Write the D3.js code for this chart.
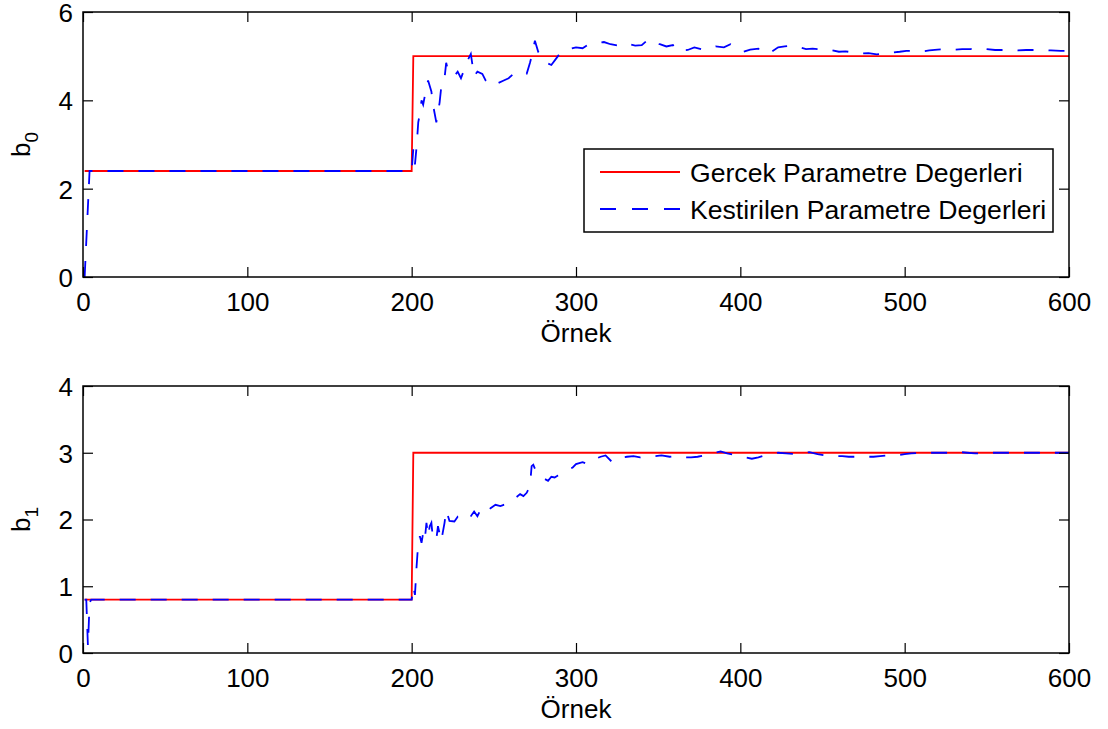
<!DOCTYPE html>
<html>
<head>
<meta charset="utf-8">
<script src="https://cdn.jsdelivr.net/npm/d3@7"></script>
<style>
  body { margin: 0; background: #fff; }
  svg { font-family: "Liberation Sans", Arial, sans-serif; }
</style>
</head>
<body>
<script>
// sample index range
const kDomain = [0, 600];
const xTicks = [0, 100, 200, 300, 400, 500, 600];

// true parameter values (step at k = 200)
const trueK = [1, 200, 201, 600];
const trueB0 = [2.4, 2.4, 5, 5];
const trueB1 = [0.8, 0.8, 3, 3];

// estimated b0
const estB0K = [1, 4, 200, 201, 202, 203, 204, 205, 206, 207, 208, 210, 212, 213, 215, 217, 218, 220, 221, 222, 224, 226, 228, 230, 232, 234, 236, 238, 240, 243, 245, 248, 250, 252, 256, 259, 262, 266, 270, 272, 273, 275, 277, 279, 282, 285, 288, 291, 295, 300, 304, 307, 313, 317, 321, 328, 332, 336, 340, 344, 347, 351, 355, 359, 361, 368, 372, 377, 381, 385, 390, 394, 398, 402, 406, 411, 413, 419, 423, 427, 432, 436, 440, 444, 450, 455, 460, 464, 469, 473, 478, 483, 488, 492, 497, 501, 506, 511, 515, 520, 526, 531, 535, 540, 545, 550, 555, 559, 564, 569, 574, 578, 584, 589, 595, 600];
const estB0 = [0, 2.4, 2.4, 2.9, 2.55, 2.95, 3.5, 3.7, 4.0, 3.9, 4.1, 4.45, 4.2, 3.9, 3.5, 3.95, 4.3, 4.5, 4.85, 4.7, 4.6, 4.55, 4.65, 4.5, 4.7, 4.9, 5.05, 4.55, 4.65, 4.6, 4.45, 4.35, 4.4, 4.38, 4.45, 4.5, 4.6, 4.55, 4.6, 4.85, 5.0, 5.35, 5.1, 5.0, 4.85, 4.8, 4.95, 5.1, 5.15, 5.2, 5.18, 5.25, 5.3, 5.32, 5.27, 5.22, 5.28, 5.24, 5.25, 5.38, 5.3, 5.27, 5.22, 5.25, 5.12, 5.14, 5.2, 5.15, 5.17, 5.22, 5.2, 5.27, 5.18, 5.1, 5.15, 5.17, 5.08, 5.1, 5.2, 5.22, 5.24, 5.2, 5.16, 5.17, 5.15, 5.14, 5.1, 5.11, 5.08, 5.06, 5.07, 5.04, 5.06, 5.08, 5.1, 5.12, 5.12, 5.11, 5.13, 5.15, 5.16, 5.15, 5.16, 5.16, 5.18, 5.16, 5.14, 5.14, 5.14, 5.13, 5.14, 5.14, 5.14, 5.13, 5.12, 5.12];

// estimated b1
const estB1K = [1, 2, 3, 4, 5, 200, 201, 202, 203, 204, 205, 206, 207, 208, 209, 210, 211, 212, 213, 215, 216, 218, 220, 221, 223, 226, 228, 230, 232, 234, 236, 238, 240, 242, 245, 248, 251, 254, 256, 260, 263, 266, 268, 270, 272, 273, 274, 276, 280, 283, 285, 287, 289, 292, 295, 298, 300, 304, 307, 311, 315, 318, 322, 326, 331, 335, 339, 344, 348, 352, 357, 362, 366, 370, 374, 380, 385, 388, 392, 398, 403, 407, 411, 415, 419, 423, 428, 433, 438, 442, 447, 452, 457, 462, 466, 471, 476, 481, 485, 490, 495, 500, 504, 509, 514, 519, 523, 528, 534, 538, 543, 548, 552, 557, 562, 568, 574, 578, 582, 586, 590, 595, 600];
const estB1 = [0.8, 0.8, 0.1, 0.75, 0.8, 0.8, 1.0, 0.87, 1.3, 1.65, 1.75, 1.65, 1.8, 1.7, 1.95, 1.75, 1.9, 1.95, 1.7, 1.7, 1.9, 1.68, 1.95, 2.14, 1.98, 1.97, 2.04, 2.0, 2.0, 2.05, 2.05, 2.12, 2.05, 2.15, 2.1, 2.17, 2.22, 2.2, 2.22, 2.25, 2.32, 2.38, 2.35, 2.4, 2.5, 2.8, 2.82, 2.7, 2.62, 2.58, 2.64, 2.63, 2.66, 2.7, 2.74, 2.78, 2.83, 2.86, 2.83, 2.9, 2.94, 2.96, 2.86, 2.92, 2.94, 2.95, 2.93, 2.95, 2.95, 2.96, 2.94, 2.95, 2.93, 2.93, 2.94, 2.97, 3.0, 3.02, 2.99, 2.96, 2.93, 2.91, 2.93, 2.96, 2.98, 3.0, 2.99, 2.98, 2.99, 3.01, 2.98, 2.96, 2.95, 2.95, 2.94, 2.94, 2.94, 2.94, 2.95, 2.96, 2.96, 2.98, 2.99, 3.0, 3.0, 3.0, 3.0, 3.0, 3.01, 3.0, 2.99, 2.99, 3.0, 3.0, 3.0, 3.0, 3.0, 3.0, 3.0, 2.99, 3.0, 3.0, 3.0];

const legendLabels = ["Gercek Parametre Degerleri", "Kestirilen Parametre Degerleri"];
const xLabel = "Örnek";

const W = 1108, H = 729;
const fontSize = 26;
const tickLen = 10;

const svg = d3.select("body").append("svg")
  .attr("width", W).attr("height", H);

function drawPanel(opts) {
  const { top, bottom, yDomain, yTicks, trueV, estK, estV, sub, legend } = opts;
  const left = 83, right = 1069;
  const x = d3.scaleLinear().domain(kDomain).range([left, right]);
  const y = d3.scaleLinear().domain(yDomain).range([bottom, top]);

  const g = svg.append("g");

  g.append("rect").attr("x", left).attr("y", top)
    .attr("width", right - left).attr("height", bottom - top).attr("fill", "#fff");

  const line = d3.line().x(d => x(d[0])).y(d => y(d[1]));

  g.append("path")
    .attr("d", line(trueK.map((k, i) => [k, trueV[i]])))
    .attr("fill", "none").attr("stroke", "#ff0000").attr("stroke-width", 1.8);

  g.append("path")
    .attr("d", line(estK.map((k, i) => [k, estV[i]])))
    .attr("fill", "none").attr("stroke", "#0000ff").attr("stroke-width", 1.8)
    .attr("stroke-dasharray", "16,15");

  // axes, MATLAB style: ticks inside, mirrored on all sides
  const fmt = d3.format("d");
  const axB = g.append("g").attr("transform", `translate(0,${bottom})`)
    .call(d3.axisBottom(x).tickValues(xTicks).tickFormat(fmt).tickSizeInner(-tickLen).tickSizeOuter(0).tickPadding(16));
  const axT = g.append("g").attr("transform", `translate(0,${top})`)
    .call(d3.axisTop(x).tickValues(xTicks).tickSizeInner(-tickLen).tickSizeOuter(0).tickFormat(""));
  const axL = g.append("g").attr("transform", `translate(${left},0)`)
    .call(d3.axisLeft(y).tickValues(yTicks).tickFormat(fmt).tickSizeInner(-tickLen).tickSizeOuter(0).tickPadding(10));
  const axR = g.append("g").attr("transform", `translate(${right},0)`)
    .call(d3.axisRight(y).tickValues(yTicks).tickSizeInner(-tickLen).tickSizeOuter(0).tickFormat(""));

  [axB, axT, axL, axR].forEach(a => {
    a.select(".domain").remove();
    a.selectAll("line").attr("stroke", "#000").attr("stroke-width", 1.2);
    a.selectAll("text").attr("fill", "#000").style("font-size", fontSize + "px")
      .style("font-family", "Liberation Sans, Arial, sans-serif");
  });
  axL.selectAll("text").attr("dy", "0.36em");

  g.append("rect").attr("x", left).attr("y", top)
    .attr("width", right - left).attr("height", bottom - top)
    .attr("fill", "none").attr("stroke", "#000").attr("stroke-width", 1.5);

  // x label
  g.append("text").attr("x", (left + right) / 2).attr("y", bottom + 65)
    .attr("text-anchor", "middle").style("font-size", fontSize + "px").text(xLabel);

  // y label b with subscript
  const yl = g.append("text")
    .attr("transform", `translate(30,${(top + bottom) / 2}) rotate(-90)`)
    .attr("text-anchor", "middle").style("font-size", fontSize + "px");
  yl.append("tspan").text("b");
  yl.append("tspan").attr("dy", 8).style("font-size", "19px").text(sub);

  if (legend) {
    const lx = 584, ly = 149, lw = 469, lh = 83;
    const lg = g.append("g");
    lg.append("rect").attr("x", lx).attr("y", ly).attr("width", lw).attr("height", lh)
      .attr("fill", "#fff").attr("stroke", "#000").attr("stroke-width", 1.5);
    const rows = [{ c: "#ff0000", dash: null, yy: 172 }, { c: "#0000ff", dash: "16,16", yy: 209 }];
    rows.forEach((r, i) => {
      lg.append("line").attr("x1", 600).attr("x2", 680).attr("y1", r.yy).attr("y2", r.yy)
        .attr("stroke", r.c).attr("stroke-width", 1.8).attr("stroke-dasharray", r.dash);
      lg.append("text").attr("x", 690).attr("y", r.yy).attr("dy", "0.36em")
        .style("font-size", "26.6px").text(legendLabels[i]);
    });
  }
}

drawPanel({ top: 12, bottom: 277, yDomain: [0, 6], yTicks: [0, 2, 4, 6],
  trueV: trueB0, estK: estB0K, estV: estB0, sub: "0", legend: true });
drawPanel({ top: 386, bottom: 653, yDomain: [0, 4], yTicks: [0, 1, 2, 3, 4],
  trueV: trueB1, estK: estB1K, estV: estB1, sub: "1", legend: false });
</script>
</body>
</html>
